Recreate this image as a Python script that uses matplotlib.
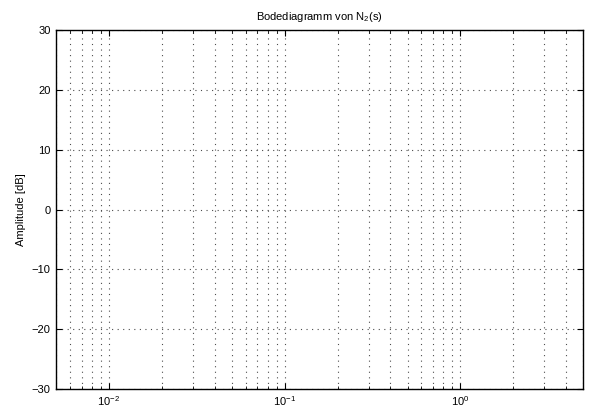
import numpy as np
import matplotlib
matplotlib.use("Agg")
import matplotlib.pyplot as plt
from matplotlib.ticker import LogLocator

plt.rcParams['font.family'] = ['Liberation Sans', 'DejaVu Sans']
plt.rcParams['mathtext.fontset'] = 'custom'
plt.rcParams['mathtext.rm'] = 'Liberation Sans'
plt.rcParams['mathtext.it'] = 'Liberation Sans:italic'

# axis ranges / ticks (empty Bode magnitude plot)
freq_range = [0.005, 5.0]
amp_range = [-30, 30]
amp_ticks = [-30, -20, -10, 0, 10, 20, 30]
title = "Bodediagramm von N$_2$(s)"
ylabel = "Amplitude [dB]"

fig = plt.figure(figsize=(5.89, 4.12), dpi=100)
ax = fig.add_axes([0.0951, 0.0558, 0.8952, 0.8714])

ax.set_xscale('log')
ax.set_xlim(freq_range)
ax.set_ylim(amp_range)
ax.set_yticks(amp_ticks)
ax.xaxis.set_major_locator(LogLocator(base=10, numticks=10))
ax.xaxis.set_minor_locator(LogLocator(base=10, subs=np.arange(2, 10), numticks=20))

dots = (0, (1, 4))
ax.grid(True, which='major', linestyle=dots, color='0.3', linewidth=0.8)
ax.grid(True, which='minor', axis='x', linestyle=dots, color='0.3', linewidth=0.8)

ax.tick_params(which='both', direction='in', top=True, right=True, labelsize=8, pad=4)
ax.tick_params(which='major', length=4, width=0.8)
ax.tick_params(which='minor', length=2, width=0.6)
for s in ax.spines.values():
    s.set_linewidth(1.0)

ax.set_title(title, fontsize=8, pad=7)
ax.set_ylabel(ylabel, fontsize=8, labelpad=4)

fig.savefig("out.png", dpi=100)
